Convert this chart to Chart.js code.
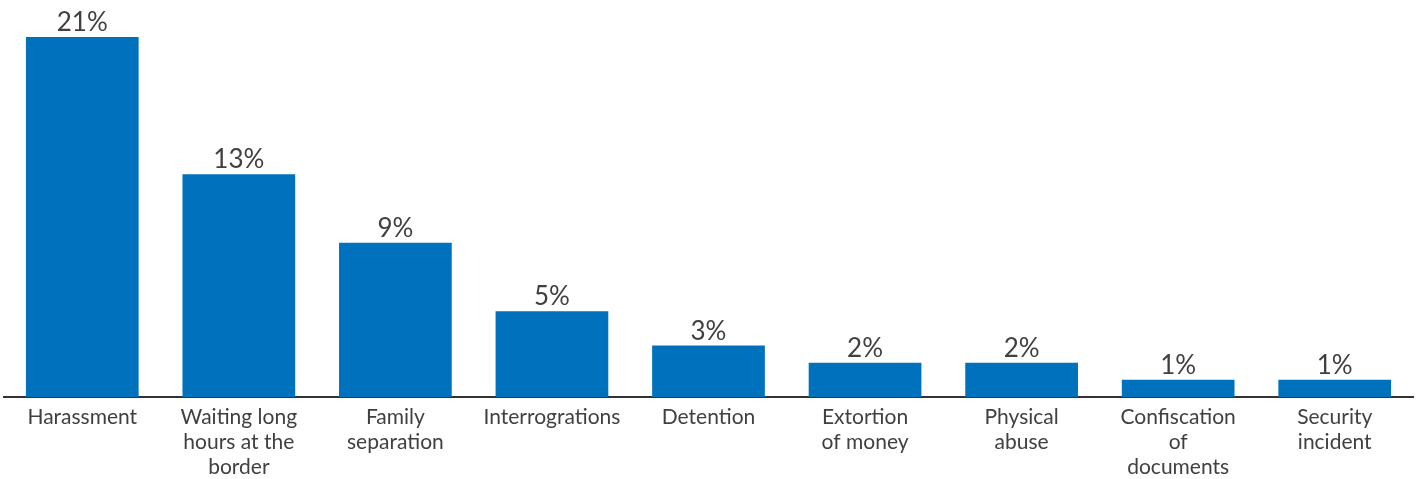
<!DOCTYPE html>
<html>
<head>
<meta charset="utf-8">
<script src="https://cdn.jsdelivr.net/npm/chart.js@4.4.0/dist/chart.umd.min.js"></script>
<style>
  html, body { margin: 0; padding: 0; background: #fff; }
  #wrap { width: 1421px; height: 479px; position: relative; }
</style>
</head>
<body>
<div id="wrap"><canvas id="chart"></canvas></div>
<script>
const categories = [
  "Harassment",
  ["Waiting long", "hours at the", "border"],
  ["Family", "separation"],
  "Interrogrations",
  "Detention",
  ["Extortion", "of money"],
  ["Physical", "abuse"],
  ["Confiscation", "of", "documents"],
  ["Security", "incident"]
];
const percentages = [21, 13, 9, 5, 3, 2, 2, 1, 1];

// etiquetas de valor encima de cada barra
const valueLabels = {
  id: "valueLabels",
  afterDatasetsDraw(chart) {
    const ctx = chart.ctx;
    const meta = chart.getDatasetMeta(0);
    ctx.save();
    ctx.font = "26px Lato";
    ctx.fillStyle = "#404040";
    ctx.textAlign = "center";
    ctx.textBaseline = "alphabetic";
    meta.data.forEach((bar, i) => {
      ctx.fillText(percentages[i] + "%", bar.x, bar.y - 6);
    });
    ctx.restore();
  }
};

new Chart(document.getElementById("chart"), {
  type: "bar",
  data: {
    labels: categories,
    datasets: [{
      data: percentages,
      backgroundColor: "#0071bc",
      categoryPercentage: 1,
      barPercentage: 0.72
    }]
  },
  options: {
    responsive: true,
    maintainAspectRatio: false,
    animation: false,
    layout: { padding: { left: 4, right: 8, top: 37, bottom: 0 } },
    plugins: {
      legend: { display: false },
      tooltip: { enabled: false }
    },
    scales: {
      x: {
        grid: { display: false, drawTicks: false },
        border: { display: true, color: "#333333", width: 2 },
        ticks: {
          color: "#404040",
          font: { family: "Lato", size: 21, lineHeight: 1.19 },
          padding: 8,
          maxRotation: 0,
          autoSkip: false
        },
        afterFit(scale) { scale.height = 82; }
      },
      y: {
        display: false,
        min: 0,
        max: 21
      }
    }
  },
  plugins: [valueLabels]
});
</script>
</body>
</html>
